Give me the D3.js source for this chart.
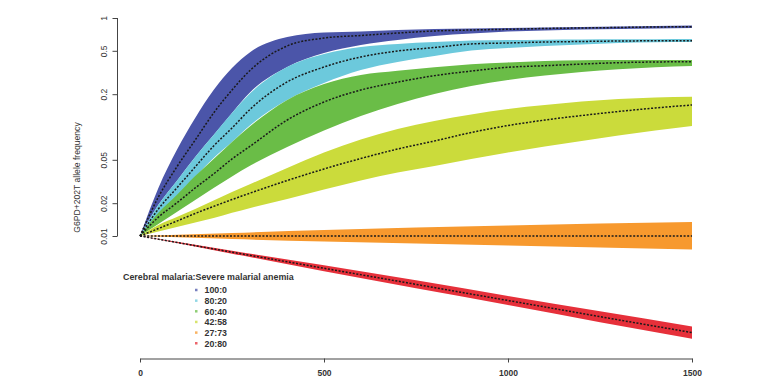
<!DOCTYPE html>
<html><head><meta charset="utf-8">
<script src="https://cdn.jsdelivr.net/npm/d3@7"></script>
<style>body{margin:0;background:#fff}svg{display:block}text{font-family:"Liberation Sans",Arial,sans-serif}</style>
</head><body><svg id="c" width="768" height="384"></svg>
<script>
// generations (x values)
const generations = [0,50,100,150,200,250,300,400,500,600,700,800,900,1000,1100,1200,1300,1400,1500];
const generationsSparse = [0,250,500,750,1000,1250,1500];

// 100:0
const blueHi  = [0.01,0.0276,0.0615,0.121,0.2185,0.348,0.488,0.669,0.736,0.752,0.776,0.792,0.801,0.810,0.818,0.827,0.836,0.845,0.854];
const blueMed = [0.01,0.0228,0.0430,0.076,0.1344,0.2185,0.333,0.554,0.655,0.691,0.728,0.760,0.776,0.788,0.801,0.810,0.818,0.827,0.832];
const blueLo  = [0.01,0.0193,0.0320,0.0531,0.0845,0.1344,0.2095,0.355,0.477,0.565,0.628,0.684,0.721,0.752,0.768,0.784,0.792,0.801,0.810];
// 80:20
const cyanHi  = [0.01,0.0193,0.0320,0.0531,0.0845,0.1344,0.2051,0.355,0.467,0.542,0.578,0.602,0.622,0.628,0.632,0.635,0.638,0.639,0.642];
const cyanMed = [0.01,0.0177,0.0276,0.0430,0.0669,0.0979,0.1463,0.259,0.355,0.439,0.498,0.536,0.578,0.590,0.602,0.609,0.615,0.618,0.619];
const cyanLo  = [0.01,0.0156,0.0233,0.0348,0.0520,0.0729,0.1043,0.177,0.253,0.333,0.395,0.448,0.503,0.531,0.554,0.571,0.590,0.599,0.602];
// 60:40
const greenHi  = [0.01,0.0163,0.0238,0.0355,0.0509,0.0729,0.1021,0.177,0.248,0.300,0.328,0.353,0.376,0.391,0.403,0.409,0.412,0.412,0.412];
const greenMed = [0.01,0.0149,0.0201,0.0276,0.0371,0.0509,0.0669,0.1159,0.1696,0.2185,0.258,0.296,0.326,0.353,0.365,0.378,0.389,0.395,0.397];
const greenLo  = [0.01,0.0129,0.0166,0.0214,0.0276,0.0352,0.0443,0.0655,0.0929,0.1261,0.1626,0.2009,0.2377,0.2699,0.2969,0.3196,0.3383,0.3529,0.3628];
// 42:58
const yellowHi  = [0.01,0.0126,0.0149,0.0177,0.0212,0.0253,0.0300,0.0421,0.0584,0.0768,0.0959,0.1135,0.1302,0.1463,0.1592,0.1713,0.1806,0.1865,0.1897];
const yellowMed = [0.01,0.0117,0.0137,0.0161,0.0187,0.0216,0.0248,0.0323,0.0412,0.0514,0.0628,0.0744,0.0890,0.1032,0.1159,0.1274,0.1387,0.1494,0.1592];
const yellowLo  = [0.01,0.0110,0.0121,0.0133,0.0146,0.0163,0.0181,0.0219,0.0267,0.0323,0.0383,0.0439,0.0509,0.0584,0.0662,0.0744,0.0836,0.0929,0.1021];
// 27:73
const orangeHi  = [0.01,0.01065,0.01135,0.01197,0.01248,0.01302,0.01344];
const orangeMed = [0.01,0.01,0.01,0.01,0.01,0.01,0.01];
const orangeLo  = [0.01,0.00939,0.0089,0.00853,0.00818,0.00784,0.00752];
// 20:80
const redHi  = [0.01,0.00734,0.00539,0.00392,0.00282,0.00204,0.00148];
const redMed = [0.01,0.00711,0.00506,0.0036,0.00256,0.00182,0.0013];
const redLo  = [0.01,0.00689,0.00475,0.00331,0.00233,0.00162,0.00114];

const ratioLabels = ["100:0","80:20","60:40","42:58","27:73","20:80"];
const seriesColors = ["#4b55a9","#6cc9dc","#6abd47","#cbdb3b","#f7992e","#e6303a"];
const yTicks = [1,0.5,0.2,0.05,0.02,0.01];
const yTickLabels = ["1","0.5","0.2","0.05","0.02","0.01"];
const xTicks = [0,500,1000,1500];
const xTickLabels = ["0","500","1000","1500"];
const legendTitle = "Cerebral malaria:Severe malarial anemia";
const yTitle = "G6PD+202T allele frequency";

const series = [
  {t:generations, hi:blueHi, med:blueMed, lo:blueLo},
  {t:generations, hi:cyanHi, med:cyanMed, lo:cyanLo},
  {t:generations, hi:greenHi, med:greenMed, lo:greenLo},
  {t:generations, hi:yellowHi, med:yellowMed, lo:yellowLo},
  {t:generationsSparse, hi:orangeHi, med:orangeMed, lo:orangeLo},
  {t:generationsSparse, hi:redHi, med:redMed, lo:redLo}
];

const svg = d3.select("#c");
const x = d3.scaleLinear().domain([0,1500]).range([140,692]);
const y = d3.scaleLog().domain([0.001,1]).range([345,18]);

// bands
series.forEach((s,i)=>{
  const idx = d3.range(s.t.length);
  const area = d3.area().x(j=>x(s.t[j])).y0(j=>y(s.lo[j])).y1(j=>y(s.hi[j])).curve(d3.curveMonotoneX);
  svg.append("path").attr("d", area(idx)).attr("fill", seriesColors[i]).attr("stroke","none");
});
// median dotted lines
series.forEach((s,i)=>{
  const idx = d3.range(s.t.length);
  const line = d3.line().x(j=>x(s.t[j])).y(j=>y(s.med[j])).curve(d3.curveMonotoneX);
  svg.append("path").attr("d", line(idx)).attr("fill","none")
    .attr("stroke","#1a1a1a").attr("stroke-width",1.5).attr("stroke-dasharray","2,1.6");
});

// y axis
const yAxis = svg.append("g").attr("transform","translate(117.5,0)")
  .call(d3.axisLeft(y).tickValues(yTicks).tickFormat((d,i)=>yTickLabels[i]).tickSize(5).tickSizeOuter(0));
yAxis.select(".domain").remove();
yAxis.append("line").attr("x1",0).attr("x2",0).attr("y1",y(1)).attr("y2",y(0.01)).attr("stroke","#444");
yAxis.selectAll(".tick line").attr("stroke","#444");
yAxis.selectAll(".tick text").attr("transform","rotate(-90)").attr("x",0).attr("y",-11).attr("dy",0)
  .attr("text-anchor","middle").attr("font-size","8.5px").attr("fill","#333").style("font-family","Liberation Sans, Arial, sans-serif");

// x axis
const xAxis = svg.append("g").attr("transform","translate(0,358.5)")
  .call(d3.axisBottom(x).tickValues(xTicks).tickFormat((d,i)=>xTickLabels[i]).tickSize(4).tickSizeOuter(0));
xAxis.select(".domain").attr("stroke","#444");
xAxis.selectAll(".tick line").attr("stroke","#444");
xAxis.selectAll(".tick text").attr("y",11.5).attr("dy","0.71em").attr("font-size","8.5px")
  .attr("font-weight","bold").attr("fill","#333").style("font-family","Liberation Sans, Arial, sans-serif");

// y title
svg.append("text").attr("transform","translate(80,177.5) rotate(-90)").attr("text-anchor","middle")
  .attr("font-size","8.6px").attr("fill","#333").text(yTitle);

// legend
svg.append("text").attr("x",123).attr("y",279.5).attr("font-size","8.9px").attr("font-weight","bold")
  .attr("fill","#333").text(legendTitle);
const lg = svg.append("g");
ratioLabels.forEach((lab,i)=>{
  const cy = 290 + i*10.65;
  lg.append("rect").attr("x",195).attr("y",cy-1.25).attr("width",2.5).attr("height",2.5).attr("fill",seriesColors[i]).attr("opacity",0.75);
  lg.append("text").attr("x",204.5).attr("y",cy+3.3).attr("font-size","8.8px").attr("font-weight","bold")
    .attr("fill","#333").text(lab);
});
</script></body></html>
